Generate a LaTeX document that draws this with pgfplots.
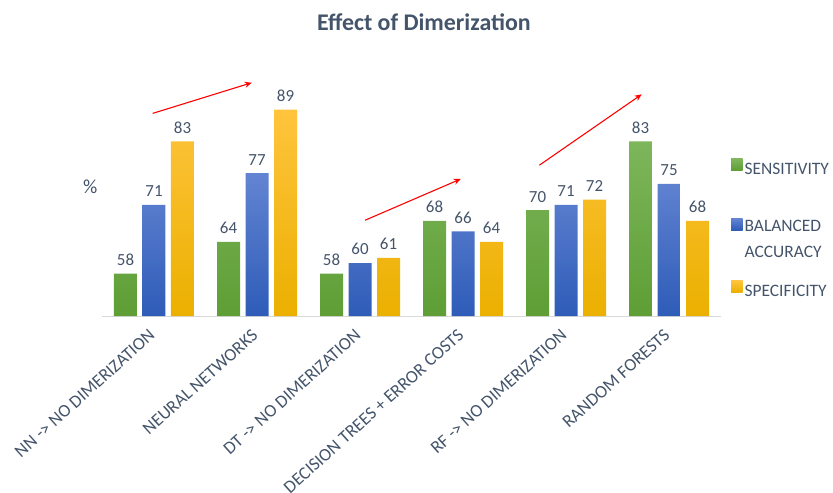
\documentclass[border=0pt]{standalone}
\usepackage{fontspec}
\setmainfont{Carlito}
\usepackage{pgfplots}
\pgfplotsset{compat=1.18}
\usetikzlibrary{arrows.meta}
\definecolor{txt}{HTML}{44546A}
\definecolor{axgray}{HTML}{D9D9D9}
\definecolor{gTop}{HTML}{7DB65B}
\definecolor{gBot}{HTML}{5E9E35}
\definecolor{bTop}{HTML}{6384D2}
\definecolor{bBot}{HTML}{2E5CB8}
\definecolor{yTop}{HTML}{FFC43D}
\definecolor{yBot}{HTML}{EBB000}
\definecolor{gLeg}{HTML}{70AD47}
\definecolor{bLeg}{HTML}{4472C4}
\definecolor{yLeg}{HTML}{FFC000}
\begin{document}
\begin{tikzpicture}
\begin{axis}[
  at={(0,0)}, anchor=south west,
  width=618bp, height=264.5bp, scale only axis,
  ybar=5.5bp, bar width=23bp,
  xmin=-0.5, xmax=5.5, ymin=50, ymax=100,
  axis y line=none, axis x line*=bottom,
  x axis line style={draw=axgray, line width=0.9pt, -},
  xtick={0,1,2,3,4,5},
  xticklabels={NN -> NO DIMERIZATION, NEURAL NETWORKS, DT -> NO DIMERIZATION, DECISION TREES + ERROR COSTS, RF -> NO DIMERIZATION, RANDOM FORESTS},
  major tick length=0pt,
  xticklabel style={xshift=-6bp, yshift=-12bp, rotate=42, anchor=north east, inner sep=0pt, font=\fontsize{18}{18}\selectfont, text=txt},
  /pgf/number format/assume math mode=true,
  nodes near coords,
  nodes near coords style={font=\fontsize{17}{17}\selectfont, text=txt, yshift=4.5bp},
  clip=false,
  legend style={draw=none, fill=none, at={(1.012,0.327)}, anchor=west,
    font=\fontsize{17.5}{26}\selectfont, text=txt, row sep=20bp,
    nodes={align=left}},
  legend cell align=left,
]
\addplot[draw=none, top color=gTop, bottom color=gBot, legend image code/.code={\fill[gLeg] (-1bp,-0.5bp) rectangle (10.5bp,11bp);}] coordinates {(0,58) (1,64) (2,58) (3,68) (4,70) (5,83)};
\addlegendentry{SENSITIVITY}
\addplot[draw=none, top color=bTop, bottom color=bBot, legend image code/.code={\fill[bLeg] (-1bp,-0.5bp) rectangle (10.5bp,11bp);}] coordinates {(0,71) (1,77) (2,60) (3,66) (4,71) (5,75)};
\addlegendentry{\rule{0pt}{31bp}BALANCED\\ACCURACY}
\addplot[draw=none, top color=yTop, bottom color=yBot, legend image code/.code={\fill[yLeg] (-1bp,-0.5bp) rectangle (10.5bp,11bp);}] coordinates {(0,83) (1,89) (2,61) (3,64) (4,72) (5,68)};
\addlegendentry{SPECIFICITY}
\draw[red, line width=1.1pt, -{Stealth[length=7bp,width=6bp]}] (axis cs:-0.013,88.3) -- (axis cs:0.949,94.1);
\draw[red, line width=1.1pt, -{Stealth[length=7bp,width=6bp]}] (axis cs:2.049,68.1) -- (axis cs:2.978,75.9);
\draw[red, line width=1.1pt, -{Stealth[length=7bp,width=6bp]}] (axis cs:3.741,78.5) -- (axis cs:4.735,91.9);
\node[text=txt, font=\fontsize{20}{20}\selectfont] at (rel axis cs:-0.020,0.49) {\%};
\node[text=txt, font=\bfseries\fontsize{24}{24}\selectfont] at (rel axis cs:0.5201,1.1115) {Effect of Dimerization};
\end{axis}
\pgfresetboundingbox
\path (-102.5bp,-177bp) rectangle (730.5bp,316bp);
\end{tikzpicture}
\end{document}
